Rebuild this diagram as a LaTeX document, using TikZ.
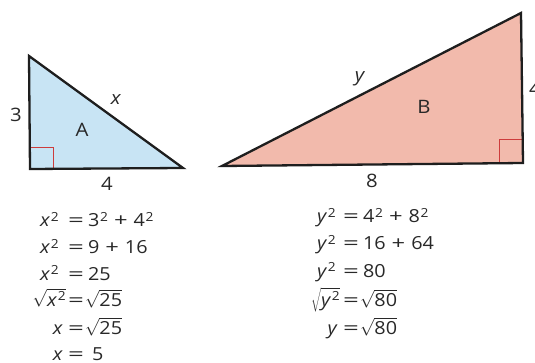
\documentclass[tikz,border=0pt]{standalone}
\usepackage{fontspec}
\setmainfont[FakeStretch=1.1]{Open Sans}
\setsansfont[FakeStretch=1.1]{Open Sans}
\definecolor{triA}{RGB}{200,228,244}
\definecolor{triB}{RGB}{242,186,172}
\definecolor{edge}{RGB}{30,30,30}
\definecolor{rtred}{RGB}{205,60,60}
\definecolor{txt}{RGB}{40,40,40}
\newcommand{\supTwo}{\hspace{0.8pt}\raisebox{5.6pt}{\fontsize{12.5}{12.5}\selectfont 2}}
\newcommand{\varX}{\textit{x}}
\newcommand{\varY}{\textit{y}}
\newcommand{\eqSign}{\scalebox{1.4}[1]{=}}
\newcommand{\plusSign}{\scalebox{1.2}[1]{+}}
\newcommand{\rootOf}[1]{$\sqrt{\mbox{#1}}$}
\begin{document}
\begin{tikzpicture}[x=1pt,y=-1pt,
  tri/.style={draw=edge, line width=2.3pt, line join=miter},
  rtmark/.style={draw=rtred, line width=0.8pt},
  lbl/.style={inner sep=0pt, font=\fontsize{18.5}{21}\selectfont, text=txt},
  eq/.style={inner sep=0pt, font=\fontsize{18}{21}\selectfont, text=txt}]
\useasboundingbox[fill=white] (0,0) rectangle (535,363);
% triangle A
\coordinate (A1) at (29,56);
\coordinate (A2) at (30,169);
\coordinate (A3) at (183,168);
\fill[triA] (A1) -- (A2) -- (A3) -- cycle;
\draw[rtmark] (30,147) -| (53,169);
\draw[tri] (A1) -- (A2) -- (A3) -- cycle;
% triangle B
\coordinate (B1) at (222,166);
\coordinate (B2) at (521,13);
\coordinate (B3) at (523,163);
\fill[triB] (B1) -- (B2) -- (B3) -- cycle;
\draw[rtmark] (499,163) |- (523,139);
\draw[tri] (B1) -- (B2) -- (B3) -- cycle;
% labels A
\node[lbl] (la3) at (16,115) {3};
\node[lbl] (lax) at (116,100) {\varX};
\node[lbl] (laA) at (82,130) {A};
\node[lbl] (la4) at (107,184) {4};
% labels B
\node[lbl] (lby) at (360,79) {\varY};
\node[lbl] (lbB) at (424,107) {B};
\node[lbl] (lb8) at (372,181) {8};
\node[lbl, anchor=west] (lb4) at (529,89) {4};
% equations left
\node[eq, anchor=base east] (xl1) at (59,227) {\varX\supTwo};
\node[eq, anchor=base west] (xr1) at (68,227) {\eqSign\hspace{4pt}3\supTwo\hspace{6pt}\plusSign\hspace{6pt}4\supTwo};
\node[eq, anchor=base east] (xl2) at (59,254) {\varX\supTwo};
\node[eq, anchor=base west] (xr2) at (68,254) {\eqSign\hspace{4pt}9\hspace{6pt}\plusSign\hspace{6pt}16};
\node[eq, anchor=base east] (xl3) at (59,280) {\varX\supTwo};
\node[eq, anchor=base west] (xr3) at (68,280) {\eqSign\hspace{4pt}25};
\node[eq, anchor=base east] (xl4) at (66,306) {\rootOf{\varX\supTwo}};
\node[eq, anchor=base west] (xr4) at (68,306) {\eqSign\hspace{1pt}\rootOf{25}};
\node[eq, anchor=base east] (xl5) at (63,334) {\varX};
\node[eq, anchor=base west] (xr5) at (68,334) {\eqSign\hspace{1pt}\rootOf{25}};
\node[eq, anchor=base east] (xl6) at (63,360) {\varX};
\node[eq, anchor=base west] (xr6) at (68,360) {\eqSign\hspace{8pt}5};
% equations right
\node[eq, anchor=base east] (yl1) at (336,223) {\varY\supTwo};
\node[eq, anchor=base west] (yr1) at (343,223) {\eqSign\hspace{4pt}4\supTwo\hspace{6pt}\plusSign\hspace{6pt}8\supTwo};
\node[eq, anchor=base east] (yl2) at (336,250) {\varY\supTwo};
\node[eq, anchor=base west] (yr2) at (343,250) {\eqSign\hspace{4pt}16\hspace{6pt}\plusSign\hspace{6pt}64};
\node[eq, anchor=base east] (yl3) at (336,277) {\varY\supTwo};
\node[eq, anchor=base west] (yr3) at (343,277) {\eqSign\hspace{4pt}80};
\node[eq, anchor=base east] (yl4) at (340,306) {\rootOf{\varY\supTwo}};
\node[eq, anchor=base west] (yr4) at (343,306) {\eqSign\hspace{1pt}\rootOf{80}};
\node[eq, anchor=base east] (yl5) at (338,334) {\varY};
\node[eq, anchor=base west] (yr5) at (343,334) {\eqSign\hspace{1pt}\rootOf{80}};
\end{tikzpicture}
\end{document}
